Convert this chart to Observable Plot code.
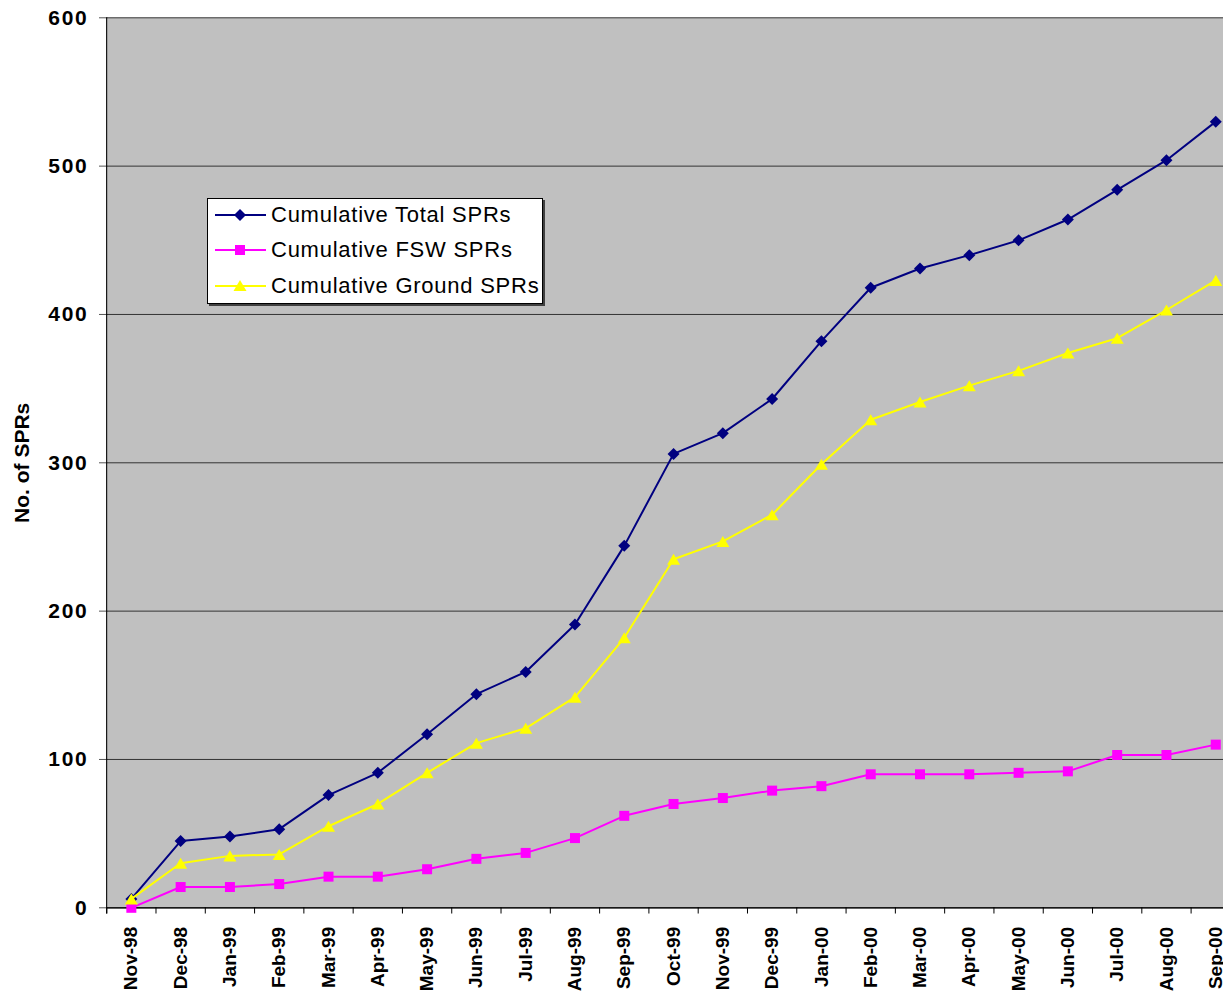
<!DOCTYPE html>
<html><head><meta charset="utf-8">
<script src="https://cdn.jsdelivr.net/npm/d3@7"></script>
<script src="https://cdn.jsdelivr.net/npm/@observablehq/plot@0.6"></script>
<style>
html,body{margin:0;padding:0;background:#fff;overflow:hidden;}
#wrap{position:relative;width:1223px;height:998px;font-family:"Liberation Sans",Arial,sans-serif;}
#wrap > svg{position:absolute;left:0;top:0;}
g[aria-label="y-axis tick label"] text{letter-spacing:1.7px;}
#legend{position:absolute;left:207px;top:198px;width:336px;height:106px;background:#fff;border:1px solid #000;box-shadow:2px 2px 0 #404040;box-sizing:border-box;}
#legend .row{position:absolute;left:7px;height:30px;display:flex;align-items:center;}
#legend .row span{font-size:22px;letter-spacing:0.75px;color:#000;margin-left:4px;white-space:nowrap;}
</style>
</head><body>
<div id="wrap"></div>
<script>
const months = ["Nov-98","Dec-98","Jan-99","Feb-99","Mar-99","Apr-99","May-99","Jun-99","Jul-99","Aug-99","Sep-99","Oct-99","Nov-99","Dec-99","Jan-00","Feb-00","Mar-00","Apr-00","May-00","Jun-00","Jul-00","Aug-00","Sep-00"];
const totalSPRs  = [6,45,48,53,76,91,117,144,159,191,244,306,320,343,382,418,431,440,450,464,484,504,530];
const fswSPRs    = [0,14,14,16,21,21,26,33,37,47,62,70,74,79,82,90,90,90,91,92,103,103,110];
const groundSPRs = [6,30,35,36,55,70,91,111,121,142,182,235,247,265,299,329,341,352,362,374,384,403,423];
const seriesNames = ["Cumulative Total SPRs","Cumulative FSW SPRs","Cumulative Ground SPRs"];
const seriesColors = ["#000080","#FF00FF","#FFFF00"];
const yTicks = [0,100,200,300,400,500,600];

const rows = (vals, name) => months.map((m,i)=>({month:m, value:vals[i], series:name}));
const total = rows(totalSPRs, seriesNames[0]);
const fsw = rows(fswSPRs, seriesNames[1]);
const ground = rows(groundSPRs, seriesNames[2]);

const diamondSym = {draw(ctx,size){const r=Math.sqrt(size/Math.PI);ctx.moveTo(0,-r);ctx.lineTo(r,0);ctx.lineTo(0,r);ctx.lineTo(-r,0);ctx.closePath();}};
const squareSym = {draw(ctx,size){const r=Math.sqrt(size/Math.PI);ctx.rect(-r,-r,2*r,2*r);}};
const triSym = {draw(ctx,size){const r=Math.sqrt(size/Math.PI);const h=r*0.85;ctx.moveTo(0,-h);ctx.lineTo(r,h);ctx.lineTo(-r,h);ctx.closePath();}};

const W = 1223, H = 998;
const left = 106.2, right = 1239.9;
const step = (right-left)/months.length;

const chart = Plot.plot({
  width: W, height: H,
  marginLeft: 107, marginRight: 0, marginTop: 17.3, marginBottom: H-907.3,
  style: {fontFamily: '"Liberation Sans", Arial, sans-serif', color: "#000", background: "transparent", overflow: "hidden"},
  x: {type: "band", domain: months, range: [left, right], padding: 0, round: false},
  y: {domain: [0, 600]},
  marks: [
    Plot.frame({fill: "#C0C0C0", stroke: "none"}),
    Plot.gridY(yTicks, {stroke: "#333", strokeOpacity: 1, strokeWidth: 1}),
    Plot.axisY(yTicks, {tickSize: 8, tickPadding: 11, fontSize: 21, fontWeight: "bold", stroke: "#555", label: null}),
    Plot.ruleY([0], {stroke: "#000", strokeWidth: 1.2}),
    Plot.ruleX([months[0]], {y1: -4.2, y2: 600, dx: -step/2, stroke: "#000", strokeWidth: 1.2}),
    Plot.ruleX(months, {x: d=>d, y1: 0, y2: -4.2, dx: -step/2, stroke: "#000", strokeWidth: 1}),
    Plot.axisX({tickSize: 0, tickRotate: -90, tickPadding: 19, fontSize: 19, fontWeight: "bold", label: null}),
    Plot.text(["No. of SPRs"], {text: d=>d, frameAnchor: "left", textAnchor: "middle", dx: -85, rotate: -90, fontSize: 21, fontWeight: "bold"}),
    Plot.line(total, {x: "month", y: "value", stroke: seriesColors[0], strokeWidth: 2}),
    Plot.dot(total, {x: "month", y: "value", symbol: diamondSym, r: 6, fill: seriesColors[0], stroke: "none"}),
    Plot.line(fsw, {x: "month", y: "value", stroke: seriesColors[1], strokeWidth: 2}),
    Plot.dot(fsw, {x: "month", y: "value", symbol: squareSym, r: 5, fill: seriesColors[1], stroke: "none"}),
    Plot.line(ground, {x: "month", y: "value", stroke: seriesColors[2], strokeWidth: 2}),
    Plot.dot(ground, {x: "month", y: "value", symbol: triSym, r: 6.5, fill: seriesColors[2], stroke: "none"})
  ]
});
const wrap = document.getElementById("wrap");
wrap.appendChild(chart);

// legend
const legend = document.createElement("div");
legend.id = "legend";
const shapes = [
  c => `<path d="M25,10 L31,16 L25,22 L19,16 Z" fill="${c}"/>`,
  c => `<rect x="20" y="11" width="10" height="10" fill="${c}"/>`,
  c => `<path d="M25,10 L31.5,21 L18.5,21 Z" fill="${c}"/>`
];
const rowTops = [1, 36, 72];
seriesNames.forEach((name,i)=>{
  const row = document.createElement("div");
  row.className = "row";
  row.style.top = rowTops[i] + "px";
  row.innerHTML = `<svg width="52" height="32"><line x1="0" x2="51" y1="16" y2="16" stroke="${seriesColors[i]}" stroke-width="2"/>${shapes[i](seriesColors[i])}</svg><span>${name}</span>`;
  legend.appendChild(row);
});
wrap.appendChild(legend);
</script>
</body></html>
